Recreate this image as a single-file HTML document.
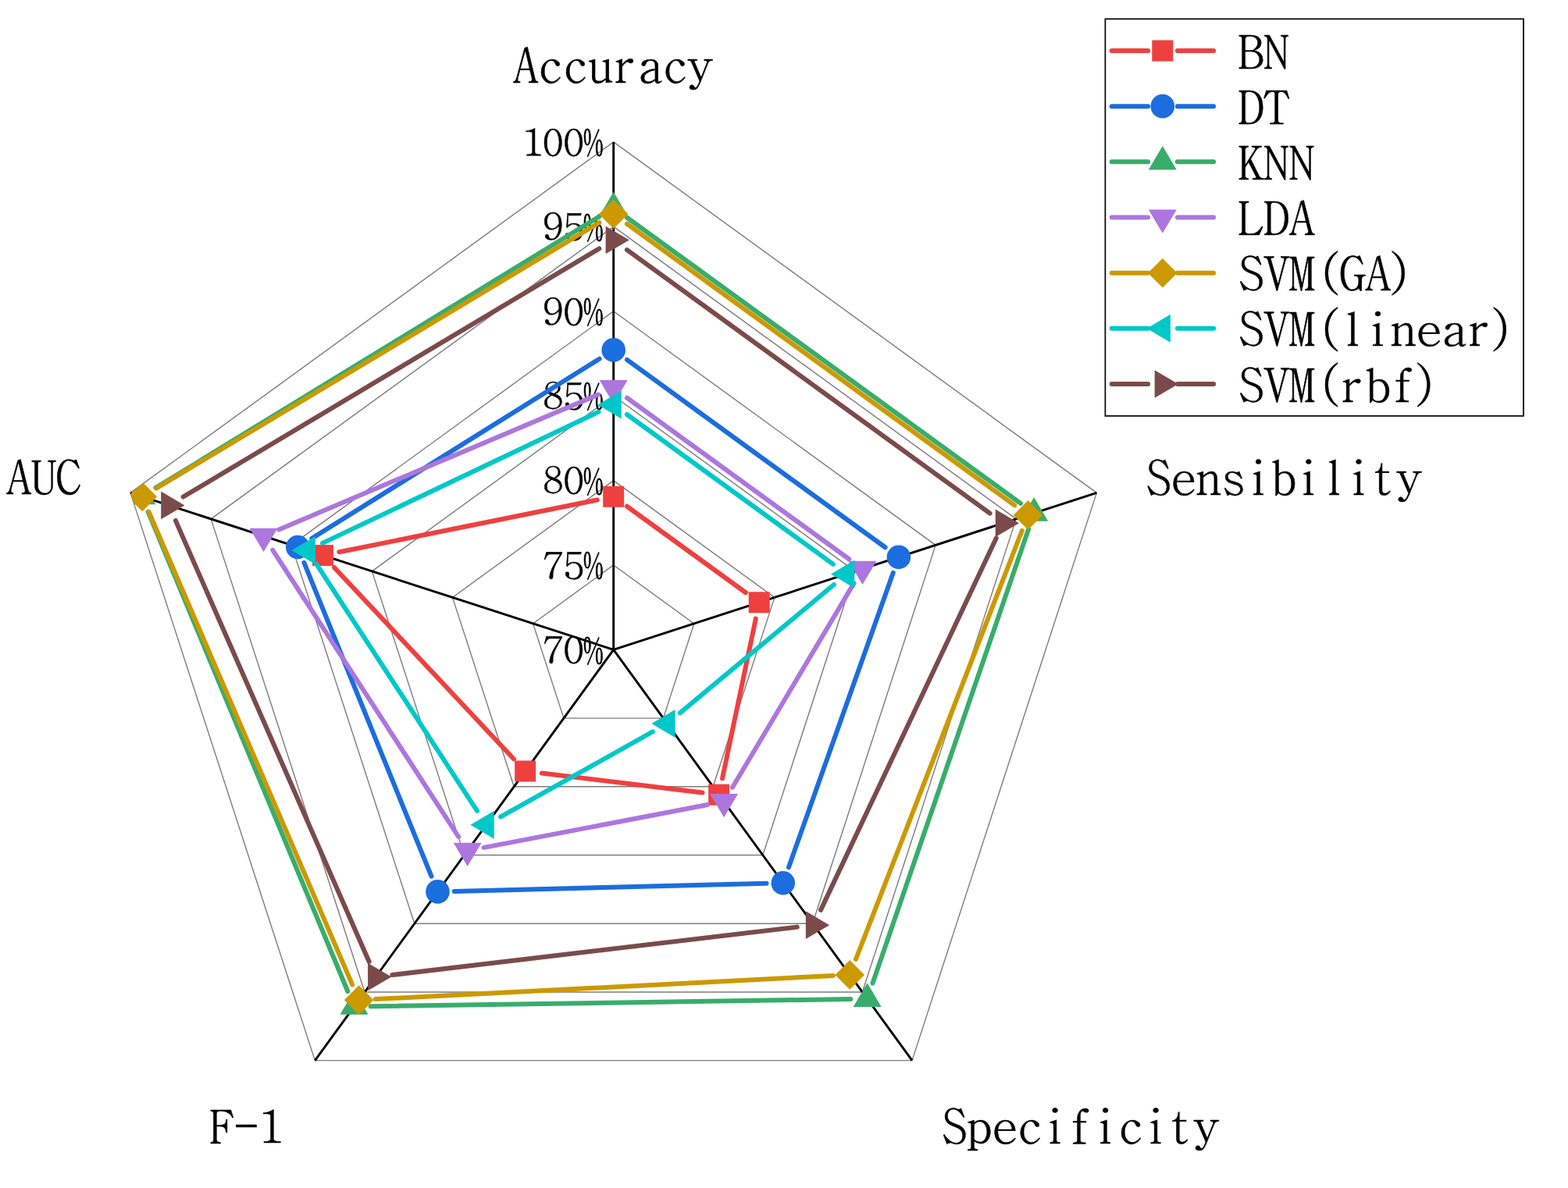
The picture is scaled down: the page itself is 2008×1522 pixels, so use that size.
<!DOCTYPE html>
<html><head><meta charset="utf-8"><title>Radar chart</title>
<style>html,body{margin:0;padding:0;background:#fff;overflow:hidden;}svg{display:block;}</style>
</head><body>
<svg width="2008" height="1522" viewBox="0 0 2008 1522">
<rect width="100%" height="100%" fill="#fff"/>
<defs><clipPath id="cp"><polygon points="785.7,181.9 1404.36,631.38 1168.05,1358.67 403.35,1358.67 167.04,631.38"/></clipPath></defs>
<polygon points="785.7,723.98 888.81,798.9 849.43,920.11 721.97,920.11 682.59,798.9" fill="none" stroke="#7c7c7c" stroke-width="1.4"/>
<polygon points="785.7,615.57 991.92,765.39 913.15,1007.82 658.25,1007.82 579.48,765.39" fill="none" stroke="#7c7c7c" stroke-width="1.4"/>
<polygon points="785.7,507.15 1095.03,731.89 976.88,1095.53 594.52,1095.53 476.37,731.89" fill="none" stroke="#7c7c7c" stroke-width="1.4"/>
<polygon points="785.7,398.73 1198.14,698.39 1040.6,1183.24 530.8,1183.24 373.26,698.39" fill="none" stroke="#7c7c7c" stroke-width="1.4"/>
<polygon points="785.7,290.32 1301.25,664.89 1104.33,1270.95 467.07,1270.95 270.15,664.89" fill="none" stroke="#7c7c7c" stroke-width="1.4"/>
<polygon points="785.7,181.9 1404.36,631.38 1168.05,1358.67 403.35,1358.67 167.04,631.38" fill="none" stroke="#7c7c7c" stroke-width="1.4"/>
<line x1="785.7" y1="832.4" x2="785.7" y2="181.9" stroke="#000" stroke-width="2.9"/>
<line x1="785.7" y1="832.4" x2="1404.36" y2="631.38" stroke="#000" stroke-width="2.9"/>
<line x1="785.7" y1="832.4" x2="1168.05" y2="1358.67" stroke="#000" stroke-width="2.9"/>
<line x1="785.7" y1="832.4" x2="403.35" y2="1358.67" stroke="#000" stroke-width="2.9"/>
<line x1="785.7" y1="832.4" x2="167.04" y2="631.38" stroke="#000" stroke-width="2.9"/>
<text x="695" y="850.3" font-family="BatangChe, 'Noto Serif CJK SC', 'Liberation Serif', serif" stroke="#000" stroke-width="0.45" font-size="50" textLength="52.8" lengthAdjust="spacingAndGlyphs">70</text>
<text x="746.8" y="849.7" font-family="'Noto Serif CJK SC', 'Liberation Serif', serif" font-size="45.5" stroke="#000" stroke-width="1.0" textLength="26" lengthAdjust="spacingAndGlyphs">%</text>
<text x="695" y="741.88" font-family="BatangChe, 'Noto Serif CJK SC', 'Liberation Serif', serif" stroke="#000" stroke-width="0.45" font-size="50" textLength="52.8" lengthAdjust="spacingAndGlyphs">75</text>
<text x="746.8" y="741.28" font-family="'Noto Serif CJK SC', 'Liberation Serif', serif" font-size="45.5" stroke="#000" stroke-width="1.0" textLength="26" lengthAdjust="spacingAndGlyphs">%</text>
<text x="695" y="633.47" font-family="BatangChe, 'Noto Serif CJK SC', 'Liberation Serif', serif" stroke="#000" stroke-width="0.45" font-size="50" textLength="52.8" lengthAdjust="spacingAndGlyphs">80</text>
<text x="746.8" y="632.87" font-family="'Noto Serif CJK SC', 'Liberation Serif', serif" font-size="45.5" stroke="#000" stroke-width="1.0" textLength="26" lengthAdjust="spacingAndGlyphs">%</text>
<text x="695" y="525.05" font-family="BatangChe, 'Noto Serif CJK SC', 'Liberation Serif', serif" stroke="#000" stroke-width="0.45" font-size="50" textLength="52.8" lengthAdjust="spacingAndGlyphs">85</text>
<text x="746.8" y="524.45" font-family="'Noto Serif CJK SC', 'Liberation Serif', serif" font-size="45.5" stroke="#000" stroke-width="1.0" textLength="26" lengthAdjust="spacingAndGlyphs">%</text>
<text x="695" y="416.63" font-family="BatangChe, 'Noto Serif CJK SC', 'Liberation Serif', serif" stroke="#000" stroke-width="0.45" font-size="50" textLength="52.8" lengthAdjust="spacingAndGlyphs">90</text>
<text x="746.8" y="416.03" font-family="'Noto Serif CJK SC', 'Liberation Serif', serif" font-size="45.5" stroke="#000" stroke-width="1.0" textLength="26" lengthAdjust="spacingAndGlyphs">%</text>
<text x="695" y="308.22" font-family="BatangChe, 'Noto Serif CJK SC', 'Liberation Serif', serif" stroke="#000" stroke-width="0.45" font-size="50" textLength="52.8" lengthAdjust="spacingAndGlyphs">95</text>
<text x="746.8" y="307.62" font-family="'Noto Serif CJK SC', 'Liberation Serif', serif" font-size="45.5" stroke="#000" stroke-width="1.0" textLength="26" lengthAdjust="spacingAndGlyphs">%</text>
<text x="668.6" y="199.8" font-family="BatangChe, 'Noto Serif CJK SC', 'Liberation Serif', serif" stroke="#000" stroke-width="0.45" font-size="50" textLength="79.2" lengthAdjust="spacingAndGlyphs">100</text>
<text x="746.8" y="199.2" font-family="'Noto Serif CJK SC', 'Liberation Serif', serif" font-size="45.5" stroke="#000" stroke-width="1.0" textLength="26" lengthAdjust="spacingAndGlyphs">%</text>
<text x="657.2" y="105.5" font-family="BatangChe, 'Noto Serif CJK SC', 'Liberation Serif', serif" stroke="#000" stroke-width="0.45" font-size="61" textLength="255.5" lengthAdjust="spacingAndGlyphs">Accuracy</text>
<text x="1467.45" y="633.6" font-family="BatangChe, 'Noto Serif CJK SC', 'Liberation Serif', serif" stroke="#000" stroke-width="0.45" font-size="61" textLength="353.1" lengthAdjust="spacingAndGlyphs">Sensibility</text>
<text x="1206.05" y="1465.2" font-family="BatangChe, 'Noto Serif CJK SC', 'Liberation Serif', serif" stroke="#000" stroke-width="0.45" font-size="61" textLength="355" lengthAdjust="spacingAndGlyphs">Specificity</text>
<text x="268.95" y="1465" font-family="BatangChe, 'Noto Serif CJK SC', 'Liberation Serif', serif" stroke="#000" stroke-width="0.45" font-size="59" textLength="93" lengthAdjust="spacingAndGlyphs">F-1</text>
<text x="8.15" y="632.8" font-family="BatangChe, 'Noto Serif CJK SC', 'Liberation Serif', serif" stroke="#000" stroke-width="0.45" font-size="58.8" textLength="95.4" lengthAdjust="spacingAndGlyphs">AUC</text>
<g clip-path="url(#cp)">
<path d="M802.93 648.77L955.02 759.27M967.88 792.63L925.02 997.3M899.51 1015.58L693.81 990.55M658.1 972.43L428.02 726.99M434.33 707.23L764.82 640.47" stroke="#EF4040" stroke-width="6.0" stroke-linecap="round" fill="none"/>
<rect x="772.2" y="622.75" width="27" height="27" fill="#EF4040"/>
<rect x="958.75" y="758.29" width="27" height="27" fill="#EF4040"/>
<rect x="907.16" y="1004.65" width="27" height="27" fill="#EF4040"/>
<rect x="659.17" y="974.47" width="27" height="27" fill="#EF4040"/>
<rect x="399.96" y="697.95" width="27" height="27" fill="#EF4040"/>
<path d="M802.93 460.92L1133.67 701.22M1143.79 733.81L1009.95 1111.18M981.53 1131.79L581.75 1141.88M552.45 1122.68L389.32 720.74M399.38 689.72L767.63 459.68" stroke="#1C6DDE" stroke-width="6.0" stroke-linecap="round" fill="none"/>
<circle cx="785.7" cy="448.4" r="15.3" fill="#1C6DDE"/>
<circle cx="1150.91" cy="713.74" r="15.3" fill="#1C6DDE"/>
<circle cx="1002.83" cy="1131.25" r="15.3" fill="#1C6DDE"/>
<circle cx="560.46" cy="1142.42" r="15.3" fill="#1C6DDE"/>
<circle cx="381.31" cy="701.01" r="15.3" fill="#1C6DDE"/>
<path d="M802.93 278.72L1306.96 644.91M1317.28 677.58L1117.6 1259.56M1089.39 1280.03L474.78 1289.33M445.3 1269.99L189.58 655.71M199.57 624.93L767.53 277.32" stroke="#38AD6B" stroke-width="6.0" stroke-linecap="round" fill="none"/>
<polygon points="785.7,245.8 803.7,276.4 767.7,276.4" fill="#38AD6B"/>
<polygon points="1324.19,637.03 1342.19,667.63 1306.19,667.63" fill="#38AD6B"/>
<polygon points="1110.69,1259.31 1128.69,1289.91 1092.69,1289.91" fill="#38AD6B"/>
<polygon points="453.48,1269.26 471.48,1299.86 435.48,1299.86" fill="#38AD6B"/>
<polygon points="181.4,615.65 199.4,646.25 163.4,646.25" fill="#38AD6B"/>
<path d="M802.93 509.72L1087.26 716.3M1093.61 747.12L938.01 1008.74M906.2 1031.05L619.59 1085.83M587.09 1071.95L349.14 704.67M357.18 678.49L766.08 505.5" stroke="#AD76DE" stroke-width="6.0" stroke-linecap="round" fill="none"/>
<polygon points="785.7,517.4 803.7,487.1 767.7,487.1" fill="#AD76DE"/>
<polygon points="1104.49,749.02 1122.49,718.72 1086.49,718.72" fill="#AD76DE"/>
<polygon points="927.12,1047.25 945.12,1016.95 909.12,1016.95" fill="#AD76DE"/>
<polygon points="598.67,1110.03 616.67,1079.73 580.67,1079.73" fill="#AD76DE"/>
<polygon points="337.56,706.99 355.56,676.69 319.56,676.69" fill="#AD76DE"/>
<path d="M802.93 286.77L1299.3 647.4M1308.84 679.78L1095.99 1229.02M1067.02 1249.97L480.93 1280.07M451.24 1261.6L190.67 655.9M200.52 625.37L767.44 285.21" stroke="#CC9900" stroke-width="6.0" stroke-linecap="round" fill="none"/>
<polygon points="785.7,255.45 804.5,274.25 785.7,293.05 766.9,274.25" fill="#CC9900"/>
<polygon points="1316.53,641.12 1335.33,659.92 1316.53,678.72 1297.73,659.92" fill="#CC9900"/>
<polygon points="1088.29,1230.08 1107.09,1248.88 1088.29,1267.68 1069.49,1248.88" fill="#CC9900"/>
<polygon points="459.66,1262.36 478.46,1281.16 459.66,1299.96 440.86,1281.16" fill="#CC9900"/>
<polygon points="182.25,617.53 201.05,636.33 182.25,655.13 163.45,636.33" fill="#CC9900"/>
<path d="M802.93 531.02L1067 722.88M1067.88 749.04L870.83 913.41M835.88 937.46L641.23 1046.42M611.03 1038.97L405.39 722.91M413 695.9L766.47 527.65" stroke="#00C8C8" stroke-width="6.0" stroke-linecap="round" fill="none"/>
<polygon points="765.5,518.5 795.8,500.5 795.8,536.5" fill="#00C8C8"/>
<polygon points="1064.04,735.4 1094.34,717.4 1094.34,753.4" fill="#00C8C8"/>
<polygon points="834.27,927.05 864.57,909.05 864.57,945.05" fill="#00C8C8"/>
<polygon points="602.45,1056.82 632.75,1038.82 632.75,1074.82" fill="#00C8C8"/>
<polygon points="373.57,705.05 403.87,687.05 403.87,723.05" fill="#00C8C8"/>
<path d="M802.93 320.07L1267.63 657.69M1275.77 689.48L1051.06 1165.87M1020.82 1187.64L502.32 1249.05M472.62 1232.04L224.85 666.9M234.59 636.48L767.41 318.47" stroke="#7B4B4B" stroke-width="6.0" stroke-linecap="round" fill="none"/>
<polygon points="805.9,307.55 775.6,289.75 775.6,325.35" fill="#7B4B4B"/>
<polygon points="1305.06,670.21 1274.76,652.41 1274.76,688.01" fill="#7B4B4B"/>
<polygon points="1062.17,1185.13 1031.87,1167.33 1031.87,1202.93" fill="#7B4B4B"/>
<polygon points="501.37,1251.55 471.07,1233.75 471.07,1269.35" fill="#7B4B4B"/>
<polygon points="236.5,647.39 206.2,629.59 206.2,665.19" fill="#7B4B4B"/>
</g>
<rect x="1415.4" y="24.3" width="535.6" height="508.6" fill="none" stroke="#000" stroke-width="1.7"/>
<path d="M1423.7 65L1470.1 65M1507.9 65L1554.1 65" stroke="#EF4040" stroke-width="6.0" stroke-linecap="round" fill="none"/>
<rect x="1475.3" y="51.5" width="27" height="27" fill="#EF4040"/>
<text x="1586" y="87.5" font-family="BatangChe, 'Noto Serif CJK SC', 'Liberation Serif', serif" stroke="#000" stroke-width="0.45" font-size="59" textLength="65" lengthAdjust="spacingAndGlyphs">BN</text>
<path d="M1423.7 136.17L1470.1 136.17M1507.9 136.17L1554.1 136.17" stroke="#1C6DDE" stroke-width="6.0" stroke-linecap="round" fill="none"/>
<circle cx="1488.8" cy="136.17" r="15.3" fill="#1C6DDE"/>
<text x="1586" y="158.67" font-family="BatangChe, 'Noto Serif CJK SC', 'Liberation Serif', serif" stroke="#000" stroke-width="0.45" font-size="59" textLength="65" lengthAdjust="spacingAndGlyphs">DT</text>
<path d="M1423.7 207.34L1470.1 207.34M1507.9 207.34L1554.1 207.34" stroke="#38AD6B" stroke-width="6.0" stroke-linecap="round" fill="none"/>
<polygon points="1488.8,186.94 1506.8,217.54 1470.8,217.54" fill="#38AD6B"/>
<text x="1586" y="229.84" font-family="BatangChe, 'Noto Serif CJK SC', 'Liberation Serif', serif" stroke="#000" stroke-width="0.45" font-size="59" textLength="97.5" lengthAdjust="spacingAndGlyphs">KNN</text>
<path d="M1423.7 278.51L1470.1 278.51M1507.9 278.51L1554.1 278.51" stroke="#AD76DE" stroke-width="6.0" stroke-linecap="round" fill="none"/>
<polygon points="1488.8,298.71 1506.8,268.41 1470.8,268.41" fill="#AD76DE"/>
<text x="1586" y="301.01" font-family="BatangChe, 'Noto Serif CJK SC', 'Liberation Serif', serif" stroke="#000" stroke-width="0.45" font-size="59" textLength="97.5" lengthAdjust="spacingAndGlyphs">LDA</text>
<path d="M1423.7 349.68L1470.1 349.68M1507.9 349.68L1554.1 349.68" stroke="#CC9900" stroke-width="6.0" stroke-linecap="round" fill="none"/>
<polygon points="1488.8,330.88 1507.6,349.68 1488.8,368.48 1470,349.68" fill="#CC9900"/>
<text x="1586" y="372.18" font-family="BatangChe, 'Noto Serif CJK SC', 'Liberation Serif', serif" stroke="#000" stroke-width="0.45" font-size="59" textLength="97.5" lengthAdjust="spacingAndGlyphs">SVM</text>
<text x="1689" y="373.48" font-family="BatangChe, 'Noto Serif CJK SC', 'Liberation Serif', serif" stroke="#000" stroke-width="0.45" font-size="64">(</text>
<text x="1716" y="372.18" font-family="BatangChe, 'Noto Serif CJK SC', 'Liberation Serif', serif" stroke="#000" stroke-width="0.45" font-size="59" textLength="65" lengthAdjust="spacingAndGlyphs">GA</text>
<text x="1774.7" y="373.48" font-family="BatangChe, 'Noto Serif CJK SC', 'Liberation Serif', serif" stroke="#000" stroke-width="0.45" font-size="64">)</text>
<path d="M1423.7 420.85L1470.1 420.85M1507.9 420.85L1554.1 420.85" stroke="#00C8C8" stroke-width="6.0" stroke-linecap="round" fill="none"/>
<polygon points="1468.6,420.85 1498.9,402.85 1498.9,438.85" fill="#00C8C8"/>
<text x="1586" y="443.35" font-family="BatangChe, 'Noto Serif CJK SC', 'Liberation Serif', serif" stroke="#000" stroke-width="0.45" font-size="59" textLength="97.5" lengthAdjust="spacingAndGlyphs">SVM</text>
<text x="1689" y="444.65" font-family="BatangChe, 'Noto Serif CJK SC', 'Liberation Serif', serif" stroke="#000" stroke-width="0.45" font-size="64">(</text>
<text x="1716" y="443.35" font-family="BatangChe, 'Noto Serif CJK SC', 'Liberation Serif', serif" stroke="#000" stroke-width="0.45" font-size="59" textLength="195" lengthAdjust="spacingAndGlyphs">linear</text>
<text x="1904.7" y="444.65" font-family="BatangChe, 'Noto Serif CJK SC', 'Liberation Serif', serif" stroke="#000" stroke-width="0.45" font-size="64">)</text>
<path d="M1423.7 492.02L1470.1 492.02M1507.9 492.02L1554.1 492.02" stroke="#7B4B4B" stroke-width="6.0" stroke-linecap="round" fill="none"/>
<polygon points="1509,492.02 1478.7,474.22 1478.7,509.82" fill="#7B4B4B"/>
<text x="1586" y="514.52" font-family="BatangChe, 'Noto Serif CJK SC', 'Liberation Serif', serif" stroke="#000" stroke-width="0.45" font-size="59" textLength="97.5" lengthAdjust="spacingAndGlyphs">SVM</text>
<text x="1689" y="515.82" font-family="BatangChe, 'Noto Serif CJK SC', 'Liberation Serif', serif" stroke="#000" stroke-width="0.45" font-size="64">(</text>
<text x="1716" y="514.52" font-family="BatangChe, 'Noto Serif CJK SC', 'Liberation Serif', serif" stroke="#000" stroke-width="0.45" font-size="59" textLength="97.5" lengthAdjust="spacingAndGlyphs">rbf</text>
<text x="1807.2" y="515.82" font-family="BatangChe, 'Noto Serif CJK SC', 'Liberation Serif', serif" stroke="#000" stroke-width="0.45" font-size="64">)</text>
</svg>
</body></html>
